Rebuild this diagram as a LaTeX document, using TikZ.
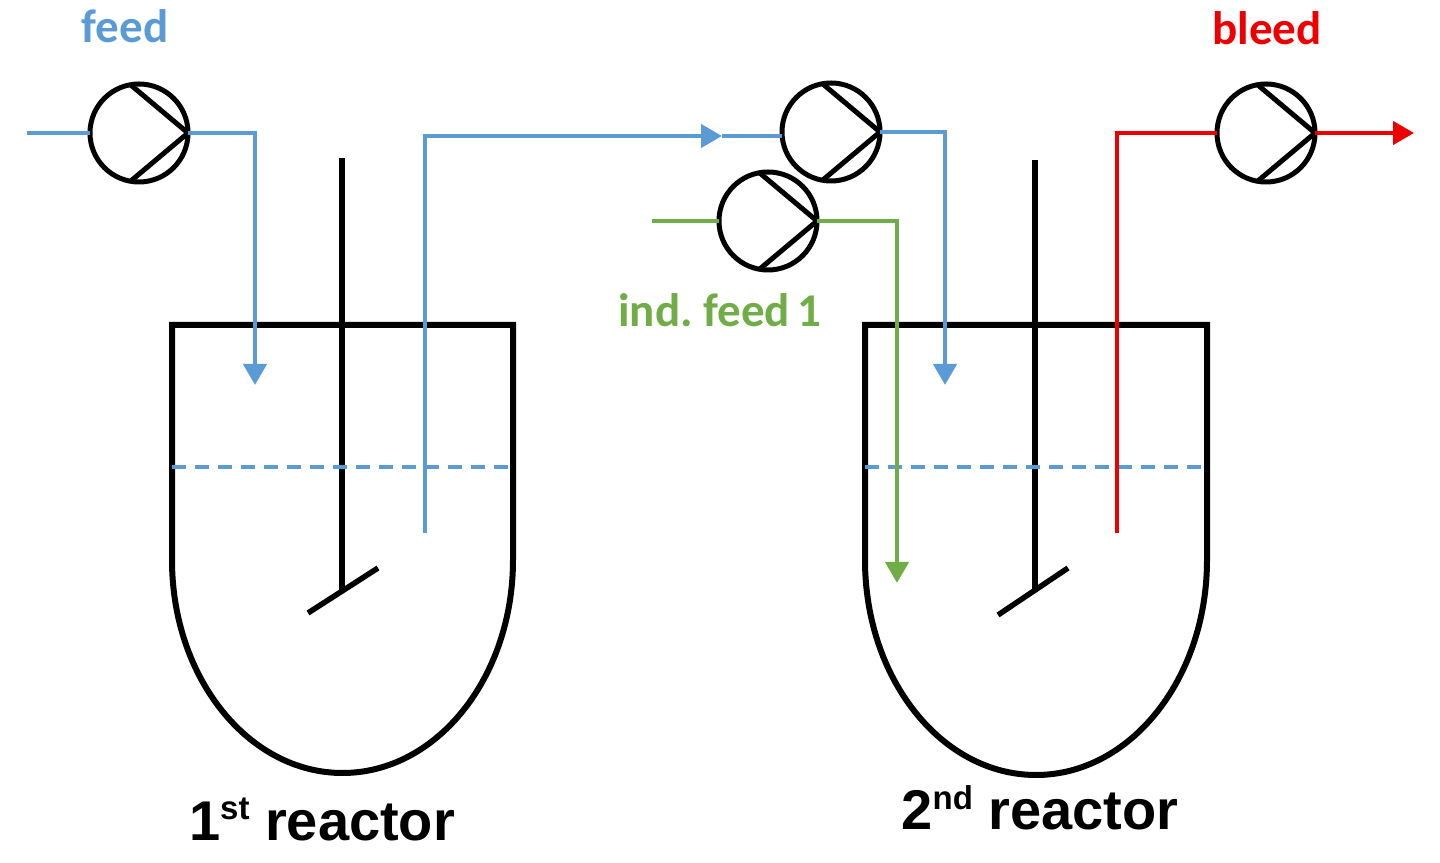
\documentclass[tikz,border=0pt]{standalone}
\usepackage{fontspec}
\setmainfont{Liberation Sans}
\newfontfamily\labelfont{Carlito}
\usetikzlibrary{arrows.meta}
\definecolor{pblue}{HTML}{5B9BD5}
\definecolor{pgreen}{HTML}{70AD47}
\definecolor{pred}{HTML}{EE0000}
\begin{document}
\begin{tikzpicture}[x=1pt,y=1pt,
  pump/.style={circle, draw, line width=5pt, minimum size=98pt, inner sep=0pt, outer sep=0pt},
  vessel/.style={draw, line width=6pt},
  pipe/.style={line width=4.5pt},
  arr/.style={-{Triangle[width=23pt,length=21pt]}},
  level/.style={pblue, line width=3.5pt, dash pattern=on 14pt off 9pt},
  lbl/.style={font=\labelfont\bfseries\fontsize{47}{50}\selectfont, anchor=base, inner sep=0pt},
  rlbl/.style={font=\bfseries\fontsize{56}{60}\selectfont, anchor=base, inner sep=0pt}]
\useasboundingbox (0,0) rectangle (1440,862);

% reactors
\draw[vessel] (172,537) -- (172,302) arc[start angle=180, end angle=360, x radius=170.5, y radius=213] -- (513,537) -- cycle;
\draw[vessel] (865,537) -- (865,302) arc[start angle=180, end angle=360, x radius=171, y radius=215] -- (1207,537) -- cycle;

% stirrers
\coordinate (b1a) at (308,249);
\coordinate (b1b) at (378,294);
\coordinate (s1top) at (342,704);
\coordinate (s1bot) at (342,271);
\draw[line width=5.5pt] (s1top) -- (s1bot);
\draw[line width=5.5pt] (b1a) -- (b1b);
\coordinate (b2a) at (998,247);
\coordinate (b2b) at (1068,294);
\coordinate (s2top) at (1035,702);
\coordinate (s2bot) at (1035,272);
\draw[line width=5.5pt] (s2top) -- (s2bot);
\draw[line width=5.5pt] (b2a) -- (b2b);

% liquid levels
\coordinate (l1a) at (172,395);
\coordinate (l1b) at (513,395);
\coordinate (l2a) at (865,395);
\coordinate (l2b) at (1207,395);
\draw[level] (l1a) -- (l1b);
\draw[level] (l2a) -- (l2b);

% pumps
\node[pump] (p1) at (139,729) {};
\node[pump] (p2) at (831,730) {};
\node[pump] (p3) at (768,641) {};
\node[pump] (p4) at (1266,729) {};
\foreach \p in {p1,p2,p3,p4}
  \draw[line width=5pt] (\p.100) -- (\p.east) -- (\p.-100);

% feed line
\coordinate (fin) at (27,729);
\coordinate (f1) at (255,477);
\draw[pipe, pblue] (fin) -- (p1.west);
\draw[pipe, pblue, arr] (p1.east) -| (f1);

% transfer line reactor 1 -> reactor 2
\coordinate (o1) at (425,329);
\coordinate (mid) at (722,726);
\draw[pipe, pblue, arr] (o1) |- (mid);
\draw[pipe, pblue] (mid) -- (mid -| p2.west);
\coordinate (f2) at (945,477);
\draw[pipe, pblue, arr] (p2.east) -| (f2);

% inducer feed
\coordinate (gin) at (652,641);
\coordinate (g2) at (897,279);
\draw[pipe, pgreen] (gin) -- (p3.west);
\draw[pipe, pgreen, arr] (p3.east) -| (g2);

% bleed
\coordinate (o2) at (1117,329);
\coordinate (bout) at (1414,729);
\draw[pipe, pred] (o2) |- (p4.west);
\draw[pipe, pred, arr] (p4.east) -- (bout);

% labels
\node[lbl, text=pblue] (tfeed) at (125,819) {feed};
\node[lbl, text=pred] (tbleed) at (1267,817) {bleed};
\node[lbl, text=pgreen] (tind) at (720,535) {ind.\ feed\,1};
\node[rlbl] (tr1) at (322,22) {1\raisebox{20pt}{\fontsize{33}{34}\selectfont st} reactor};
\node[rlbl] (tr2) at (1040,32) {2\raisebox{20pt}{\fontsize{33}{34}\selectfont nd} reactor};
\end{tikzpicture}
\end{document}
